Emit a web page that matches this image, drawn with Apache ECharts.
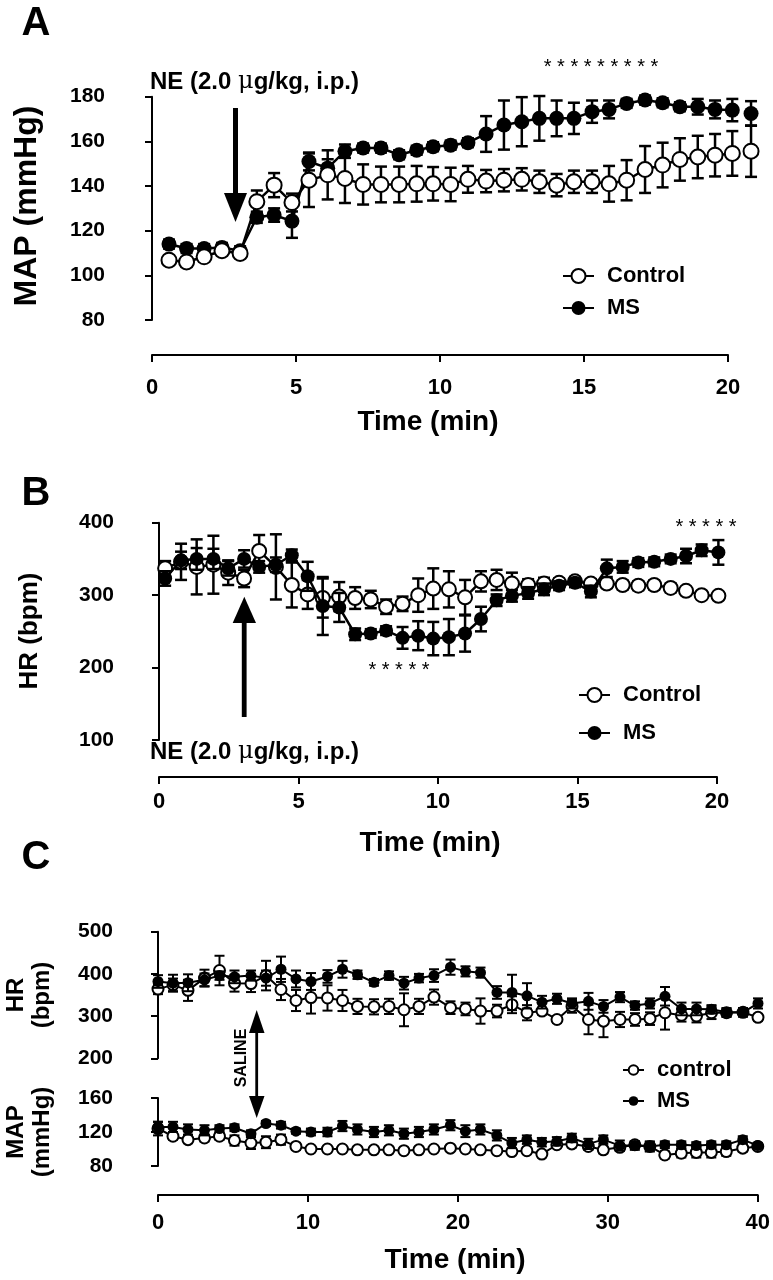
<!DOCTYPE html>
<html><head><meta charset="utf-8">
<script src="https://cdn.jsdelivr.net/npm/echarts/dist/echarts.min.js"></script>
<style>html,body{margin:0;padding:0;background:#fff}#c{width:773px;height:1280px}</style>
</head><body><div id="c"></div><script>
// ---------- Panel A : MAP after NE ----------
const timeA = [0.59,1.20,1.81,2.43,3.06,3.64,4.24,4.86,5.45,6.10,6.70,7.33,7.95,8.58,9.19,9.76,10.37,10.97,11.60,12.22,12.84,13.45,14.05,14.65,15.28,15.87,16.48,17.12,17.73,18.33,18.95,19.55,20.15,20.80];
const mapCtrlA = [106.8,106,108.3,111,109.8,133,140.4,132.6,142.6,145,143.4,140.7,140.7,140.7,141,141,140.7,143,142.2,142.6,143,141.9,140.4,141.9,141.9,141,142.6,147.4,149.4,151.9,153,153.8,154.6,155.6];
const mapCtrlErrA = [2,2,2,2,2,5,5.4,4,12,11,11,9,8,8,8,7.5,7.5,6,5,5,5,5,5,5,5,8,9,10.5,10,9.5,9.5,9.5,10,11.5];
const mapMsA = [114,112,112,112.5,111,126,127,124.3,151,148,155.6,157,157,154,156,157.6,158.3,159.4,163.3,167.3,168.8,170.3,170.3,170.3,173.3,174.3,177,178.5,177.3,175.5,175.5,174.3,174,172.5];
const mapMsErrA = [2,2,2,2,2,2.5,3,7.5,4,4,3,2,2,2,2,2,2,2,8,11,11,10,8,7,5,4,2,2,2,2,3.5,4,5,5.5];
const ticksA_x = [0,5,10,15,20];
const ticksA_y = [80,100,120,140,160,180];

// ---------- Panel B : HR after NE ----------
const timeB = [0.22,0.79,1.35,1.95,2.48,3.05,3.59,4.19,4.76,5.33,5.87,6.46,7.03,7.59,8.14,8.73,9.29,9.83,10.39,10.97,11.54,12.10,12.65,13.23,13.80,14.34,14.91,15.48,16.05,16.62,17.18,17.75,18.34,18.89,19.45,20.05];
const hrCtrlB = [337,346,339,342,331,323,361,339,314,301,296,298,296,294,284,288,300,309,308,297,319,321,316,314,316,317,319,316,316,314,313,314,310,306,300,299];
const hrCtrlErrB = [10,25,38,40,17,12,22,45,31,20,27,20,15,12,10,10,23,28,25,24,14,14,15,8,8,6,6,6,6,6,6,6,6,5,5,5];
const hrMsB = [323,348,350,350,337,350,339,342,355,326,285,283,246,247,251,241,244,240,242,247,267,293,299,303,308,313,317,305,337,339,345,346,350,354,362,359];
const hrMsErrB = [10,12,15,14,10,12,8,10,8,20,40,20,8,6,6,15,20,23,25,25,17,8,8,8,8,6,6,8,12,8,6,6,6,10,8,17];
const ticksB_y = [100,200,300,400];

// ---------- Panel C : saline, HR and MAP ----------
const timeC = [0.0,1.0,2.0,3.1,4.1,5.1,6.2,7.2,8.2,9.2,10.2,11.3,12.3,13.3,14.4,15.4,16.4,17.4,18.4,19.5,20.5,21.5,22.6,23.6,24.6,25.6,26.6,27.6,28.7,29.7,30.8,31.8,32.8,33.8,34.9,35.9,36.9,37.9,39.0,40.0];
const hrMsC = [382,378,379,386,396,393,396,390,411,388,382,394,411,398,380,396,378,390,396,416,406,403,356,356,348,333,341,330,335,323,345,325,330,347,317,317,316,309,309,330];
const hrMsErrC = [15,20,20,15,10,15,12,18,30,20,20,15,20,10,8,10,15,10,15,18,12,12,15,42,30,15,12,12,20,15,12,10,12,22,15,15,10,10,10,12];
const hrCtrlC = [364,374,361,390,408,378,377,396,363,337,344,343,337,323,322,323,315,323,345,320,317,312,312,327,308,312,292,323,292,288,292,292,294,308,302,300,308,308,309,297];
const hrCtrlErrC = [12,15,25,20,35,20,20,35,25,25,38,30,25,18,18,18,39,18,18,15,15,30,15,20,18,8,8,15,35,38,18,15,15,40,15,15,15,10,10,8];
const mapMsC = [126,126,123,122,124,125,118,130,128,121,120,120,127,123,120,122,118,120,123,128,121,123,116,107,111,108,109,113,106,111,104,104,103,105,105,104,105,105,111,104];
const mapMsErrC = [6,6,6,6,4,4,4,3,4,3,4,5,6,6,6,6,6,6,6,6,7,6,6,6,5,5,5,5,6,5,6,5,5,4,4,4,4,4,4,3];
const mapCtrlC = [124,115,111,113,115,110,107,108,111,103,100,100,100,99,99,99,98,99,100,101,100,99,98,97,98,94,105,106,103,99,102,105,103,93,95,96,96,97,101,103];
const mapCtrlErrC = [8,4,4,4,4,6,7,7,6,4,3,3,3,3,3,3,3,3,3,3,3,3,3,3,3,3,3,4,4,4,4,4,6,4,5,6,6,5,4,3];

const FONT = '"Liberation Sans", Arial, Helvetica, sans-serif';
const chart = echarts.init(document.getElementById('c'), null, {renderer:'canvas'});

function pairs(t, v){ return t.map((x,i)=>[x, v[i]]); }
function errBars(xi, yi, t, v, e, cap, lw, z){
  return {type:'custom', xAxisIndex:xi, yAxisIndex:yi, z:z, silent:true, clip:false,
    data: t.map((x,i)=>[x, v[i]-e[i], v[i]+e[i]]),
    renderItem:(p, api)=>{
      const lo = api.coord([api.value(0), api.value(1)]);
      const hi = api.coord([api.value(0), api.value(2)]);
      const s = {stroke:'#000', lineWidth:lw};
      return {type:'group', children:[
        {type:'line', shape:{x1:lo[0],y1:lo[1],x2:hi[0],y2:hi[1]}, style:s},
        {type:'line', shape:{x1:lo[0]-cap,y1:lo[1],x2:lo[0]+cap,y2:lo[1]}, style:s},
        {type:'line', shape:{x1:hi[0]-cap,y1:hi[1],x2:hi[0]+cap,y2:hi[1]}, style:s}
      ]};
    }};
}
function lineSeries(name, xi, yi, t, v, filled, size, lw, z){
  return {type:'line', name:name, xAxisIndex:xi, yAxisIndex:yi, z:z, clip:false,
    data: pairs(t, v), symbol:'circle', symbolSize:size, showSymbol:true,
    lineStyle:{color:'#000', width:lw},
    itemStyle:{color: filled ? '#000' : '#fff', borderColor:'#000', borderWidth: filled?0:2},
    emphasis:{disabled:true}, animation:false};
}
const axisCommon = {
  axisLine:{show:true, lineStyle:{color:'#000', width:2}},
  axisTick:{show:true, inside:false, length:7, lineStyle:{color:'#000', width:2}},
  splitLine:{show:false},
  axisLabel:{color:'#000', fontFamily:FONT, fontWeight:'bold', fontSize:21}
};
function xAx(gi, min, max, interval, offset, margin, show){
  return Object.assign({}, axisCommon, {type:'value', gridIndex:gi, min, max, interval, offset, show:show!==false,
    axisLabel:Object.assign({}, axisCommon.axisLabel, {margin:margin, fontSize:22})});
}
function yAx(gi, min, max, interval, offset){
  return Object.assign({}, axisCommon, {type:'value', gridIndex:gi, min, max, interval, offset,
    axisLabel:Object.assign({}, axisCommon.axisLabel, {margin:9})});
}
function legendItem(name, left, top, iw, ih, fs){
  return {data:[name], left, top, orient:'vertical', selectedMode:false, itemWidth:iw, itemHeight:ih,
    textStyle:{fontFamily:FONT, fontWeight:'bold', fontSize:fs, color:'#000', padding:[0,0,0,8]}};
}
function txt(text, x, y, size, opts){
  return Object.assign({type:'text', x, y, silent:true, style:{text, fill:'#000',
    font:'bold '+size+'px '+FONT, align:'center', verticalAlign:'middle'}}, opts||{});
}
const NE_RICH = {b:{font:'bold 24px '+FONT, fill:'#000'}, m:{font:'24px "DejaVu Serif", serif', fill:'#000'}};

const option = {
  animation:false,
  backgroundColor:'#fff',
  grid:[
    {left:152, top:96.7, width:576, height:223.3},
    {left:159, top:522.7, width:558, height:217.3},
    {left:158, top:931.7, width:600, height:126.6},
    {left:158, top:1098, width:600, height:68}
  ],
  xAxis:[
    xAx(0, ticksA_x[0], ticksA_x[ticksA_x.length-1], 5, 35, 22),
    xAx(1, 0, 20, 5, 37, 14),
    xAx(2, 0, 40, 10, 0, 10, false),
    xAx(3, 0, 40, 10, 29, 17)
  ],
  yAxis:[
    yAx(0, ticksA_y[0], ticksA_y[ticksA_y.length-1], 20, 38),
    yAx(1, ticksB_y[0], ticksB_y[ticksB_y.length-1], 100, 36),
    yAx(2, 200, 500, 100, 36),
    yAx(3, 80, 160, 40, 36)
  ],
  legend:[
    legendItem('Control', 557, 260, 31, 17.5, 22),
    legendItem('MS', 557, 292, 31, 17.5, 22),
    legendItem('Control', 573, 679, 31, 17.5, 22),
    legendItem('MS', 573, 717, 31, 17.5, 22),
    legendItem('control', 617, 1054, 21, 12, 22),
    legendItem('MS', 617, 1085, 21, 12, 22)
  ],
  series:[
    errBars(0,0,timeA,mapMsA,mapMsErrA,6,2.5,2),
    lineSeries('MS',0,0,timeA,mapMsA,true,15,2.5,3),
    errBars(0,0,timeA,mapCtrlA,mapCtrlErrA,6,2.5,4),
    lineSeries('Control',0,0,timeA,mapCtrlA,false,15,2.5,5),

    errBars(1,1,timeB,hrCtrlB,hrCtrlErrB,6,2.5,2),
    lineSeries('Control',1,1,timeB,hrCtrlB,false,14,2.5,3),
    errBars(1,1,timeB,hrMsB,hrMsErrB,6,2.5,4),
    lineSeries('MS',1,1,timeB,hrMsB,true,14,2.5,5),

    errBars(2,2,timeC,hrCtrlC,hrCtrlErrC,5,2,2),
    lineSeries('control',2,2,timeC,hrCtrlC,false,11,2,3),
    errBars(2,2,timeC,hrMsC,hrMsErrC,5,2,4),
    lineSeries('MS',2,2,timeC,hrMsC,true,11,2,5),

    errBars(3,3,timeC,mapCtrlC,mapCtrlErrC,5,2,2),
    lineSeries('control',3,3,timeC,mapCtrlC,false,11,2,3),
    errBars(3,3,timeC,mapMsC,mapMsErrC,5,2,4),
    lineSeries('MS',3,3,timeC,mapMsC,true,11,2,5)
  ],
  graphic:[
    txt('A', 36, 24, 40),
    txt('B', 36, 494, 40),
    txt('C', 36, 858, 40),
    txt('MAP (mmHg)', 27, 206, 32, {rotation:Math.PI/2}),
    txt('HR (bpm)', 30, 631, 26, {rotation:Math.PI/2}),
    txt('HR', 16, 995, 24, {rotation:Math.PI/2}),
    txt('(bpm)', 42, 995, 24, {rotation:Math.PI/2}),
    txt('MAP', 16, 1132, 24, {rotation:Math.PI/2}),
    txt('(mmHg)', 42, 1132, 24, {rotation:Math.PI/2}),
    txt('Time (min)', 428, 422, 28),
    txt('Time (min)', 430, 843, 28),
    txt('Time (min)', 455, 1260, 28),
    {type:'text', x:150, y:82, silent:true, style:{text:'{b|NE (2.0 }{m|μ}{b|g/kg, i.p.)}', rich:NE_RICH, align:'left', verticalAlign:'middle'}},
    {type:'text', x:150, y:752, silent:true, style:{text:'{b|NE (2.0 }{m|μ}{b|g/kg, i.p.)}', rich:NE_RICH, align:'left', verticalAlign:'middle'}},
    {type:'text', x:601, y:67, silent:true, style:{text:'* * * * * * * * *', font:'20px '+FONT, fill:'#000', align:'center', verticalAlign:'middle'}},
    {type:'text', x:706, y:527, silent:true, style:{text:'* * * * *', font:'20px '+FONT, fill:'#000', align:'center', verticalAlign:'middle'}},
    {type:'text', x:399, y:670, silent:true, style:{text:'* * * * *', font:'20px '+FONT, fill:'#000', align:'center', verticalAlign:'middle'}},
    // arrow A (down)
    {type:'rect', shape:{x:233, y:108, width:5, height:90}, style:{fill:'#000'}},
    {type:'polygon', shape:{points:[[224,193],[247,193],[235.5,222]]}, style:{fill:'#000'}},
    // arrow B (up)
    {type:'rect', shape:{x:241.8, y:618, width:4.8, height:99}, style:{fill:'#000'}},
    {type:'polygon', shape:{points:[[232.7,623],[256,623],[244.3,596.7]]}, style:{fill:'#000'}},
    // double arrow C
    {type:'rect', shape:{x:255.3, y:1028, width:2.8, height:72}, style:{fill:'#000'}},
    {type:'polygon', shape:{points:[[249,1033],[264.5,1033],[256.7,1010]]}, style:{fill:'#000'}},
    {type:'polygon', shape:{points:[[249,1096],[264.5,1096],[256.7,1118]]}, style:{fill:'#000'}},
    txt('SALINE', 241.7, 1058, 16, {rotation:Math.PI/2})
  ]
};
chart.setOption(option);
</script></body></html>
